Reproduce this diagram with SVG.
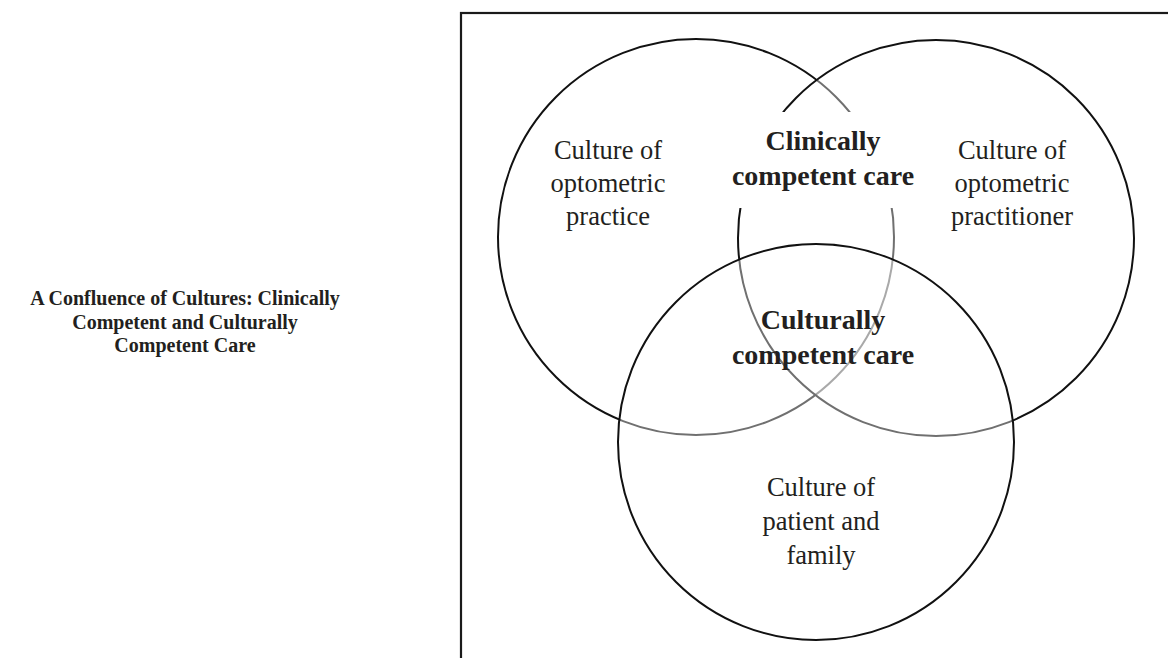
<svg xmlns="http://www.w3.org/2000/svg" width="1168" height="658" viewBox="0 0 1168 658">
  <style>
    .frame { fill: none; stroke: #1a1a1a; stroke-width: 2.2; }
    .ring { stroke: #111; stroke-width: 2; }
    .ring-base { fill: none; }
    .ring-over { fill: #ffffff; fill-opacity: 0.4; }
    .lbl { font-family: "Liberation Serif", "Times New Roman", serif; fill: #231f20; text-anchor: middle; }
    .culture { font-size: 26.5px; }
    .care { font-size: 28px; font-weight: bold; }
    .title { font-size: 20px; font-weight: bold; }
  </style>

  <rect width="1168" height="658" fill="#ffffff"/>

  <!-- title -->
  <g id="title">
    <text class="lbl title" x="185" y="305">A Confluence of Cultures: Clinically</text>
    <text class="lbl title" x="185" y="329">Competent and Culturally</text>
    <text class="lbl title" x="185" y="352">Competent Care</text>
  </g>

  <!-- outer frame, running off the right and bottom edges -->
  <rect class="frame" x="461" y="13" width="760" height="700"/>

  <!-- three overlapping circles; later circles veil earlier outlines -->
  <g id="circle-practice">
    <circle class="ring ring-base" cx="696" cy="237" r="198"/>
  </g>
  <g id="circle-practitioner">
    <circle class="ring ring-over" cx="936" cy="238" r="198"/>
  </g>
  <g id="circle-patient">
    <circle class="ring ring-over" cx="816" cy="442" r="198"/>
  </g>

  <!-- text labels -->
  <g id="label-practice">
    <text class="lbl culture" x="608" y="159">Culture of</text>
    <text class="lbl culture" x="608" y="192">optometric</text>
    <text class="lbl culture" x="608" y="225">practice</text>
  </g>
  <g id="label-practitioner">
    <text class="lbl culture" x="1012" y="159">Culture of</text>
    <text class="lbl culture" x="1012" y="192">optometric</text>
    <text class="lbl culture" x="1012" y="225">practitioner</text>
  </g>
  <g id="label-clinical">
    <rect x="730" y="112" width="172" height="96" fill="#ffffff"/>
    <text class="lbl care" x="823" y="150">Clinically</text>
    <text class="lbl care" x="823" y="185">competent care</text>
  </g>
  <g id="label-cultural">
    <text class="lbl care" x="823" y="329">Culturally</text>
    <text class="lbl care" x="823" y="364">competent care</text>
  </g>
  <g id="label-patient">
    <text class="lbl culture" x="821" y="496">Culture of</text>
    <text class="lbl culture" x="821" y="530">patient and</text>
    <text class="lbl culture" x="821" y="564">family</text>
  </g>

  <g id="connectors"/>
</svg>
